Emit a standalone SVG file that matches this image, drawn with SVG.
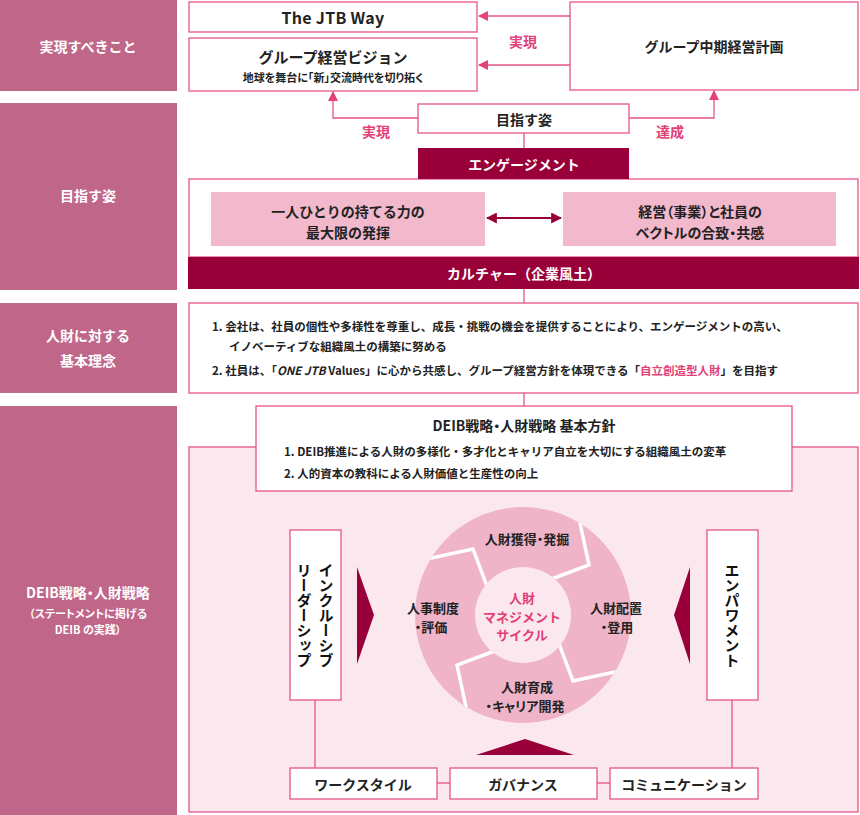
<svg xmlns="http://www.w3.org/2000/svg" width="860" height="815" viewBox="0 0 860 815">
<defs>
<style>
text{font-family:"Noto Sans CJK JP","Noto Sans",sans-serif;font-weight:700;dominant-baseline:central}
.side{fill:#bf6689}
.sideT{fill:#fff;font-size:14px;text-anchor:middle}
.box{fill:#fff;stroke:#e5538a;stroke-width:1.3}
.dark{fill:#99003a}
.darkT{fill:#fff;font-size:14px;text-anchor:middle}
.t{fill:#222;font-size:14px;text-anchor:middle}
.pinkT{fill:#e23f78;font-size:14px;text-anchor:middle}
.body{fill:#222;font-size:11.5px}
.ln{fill:none;stroke:#e5538a;stroke-width:1.3}
.pbox{fill:#f2b8cb}
.vt{fill:#111;font-size:15px;writing-mode:vertical-rl;text-anchor:middle}
.p{font-feature-settings:"palt"}
.cy{font-size:13px}
</style>
<marker id="pa" viewBox="0 0 10 10" refX="9" refY="5" markerWidth="10" markerHeight="10" markerUnits="userSpaceOnUse" orient="auto"><path d="M0,0 L10,5 L0,10 Z" fill="#e5407a"/></marker>
<marker id="da" viewBox="0 0 10 10" refX="9" refY="5" markerWidth="11" markerHeight="11" markerUnits="userSpaceOnUse" orient="auto-start-reverse"><path d="M0,0 L10,5 L0,10 Z" fill="#99003a"/></marker>
<clipPath id="ringClip"><path clip-rule="evenodd" d="M523,507 a108,108 0 1,0 0.01,0 Z M523,567 a48,48 0 1,0 0.01,0 Z"/></clipPath>
<polyline id="gap" points="-120,-51 -50,-66 -32,-18" fill="none" stroke="#fff" stroke-width="3.5"/>
</defs>

<g id="sidebar">
<rect class="side" x="0" y="0" width="177" height="91"/>
<text class="sideT" x="88" y="46">実現すべきこと</text>
<rect class="side" x="0" y="103" width="177" height="187"/>
<text class="sideT" x="88" y="195">目指す姿</text>
<rect class="side" x="0" y="303" width="177" height="90"/>
<text class="sideT" x="88" y="335">人財に対する</text>
<text class="sideT" x="88" y="360">基本理念</text>
<rect class="side" x="0" y="406" width="177" height="409"/>
<text class="sideT p" x="88" y="592">DEIB戦略・人財戦略</text>
<text class="sideT p" x="88" y="613" style="font-size:11px">（ステートメントに掲げる</text>
<text class="sideT p" x="88" y="629" style="font-size:11px">DEIB の実践）</text>
</g>

<g id="jtbway">
<rect class="box" x="189" y="2" width="288" height="30"/>
<text class="t" x="333" y="17" style="font-size:16px;letter-spacing:0.3px">The JTB Way</text>
</g>
<g id="vision">
<rect class="box" x="189" y="38" width="288" height="53"/>
<text class="t" x="333" y="56" style="font-size:15px">グループ経営ビジョン</text>
<text class="t p" x="333" y="77" style="font-size:11px">地球を舞台に「新」交流時代を切り拓く</text>
</g>
<g id="midplan">
<rect class="box" x="570" y="2" width="288" height="88"/>
<text class="t" x="714" y="46">グループ中期経営計画</text>
</g>
<g id="mezasu">
<rect class="box" x="418" y="104" width="211" height="29"/>
<text class="t" x="524" y="119">目指す姿</text>
</g>

<g id="culture">
<rect class="box" x="189" y="179" width="669" height="78"/>
<rect class="dark" x="418" y="148" width="211" height="31"/>
<text class="darkT" x="524" y="164">エンゲージメント</text>
<rect class="pbox" x="211" y="192" width="274" height="54"/>
<text class="t" x="348" y="211">一人ひとりの持てる力の</text>
<text class="t" x="348" y="232">最大限の発揮</text>
<rect class="pbox" x="563" y="192" width="273" height="54"/>
<text class="t p" x="700" y="211">経営（事業）と社員の</text>
<text class="t p" x="700" y="232">ベクトルの合致・共感</text>
<rect class="dark" x="188" y="257" width="671" height="32"/>
<text class="darkT" x="524" y="273">カルチャー（企業風土）</text>
</g>

<g id="philosophy">
<rect class="box" x="189" y="303" width="669" height="90"/>
<text class="body" x="212" y="326">1. 会社は、社員の個性や多様性を尊重し、成長・挑戦の機会を提供することにより、エンゲージメントの高い、</text>
<text class="body" x="229" y="346">イノベーティブな組織風土の構築に努める</text>
<text class="body" x="212" y="370">2. 社員は、「<tspan font-style="italic">ONE JTB</tspan> Values」に心から共感し、グループ経営方針を体現できる「<tspan fill="#e23f78">自立創造型人財</tspan>」を目指す</text>
</g>

<g id="deib-panel">
<rect x="189" y="447" width="669" height="365" fill="#fbe8ef" stroke="#e5538a" stroke-width="1.3"/>
</g>
<g id="deib-policy">
<rect class="box" x="256" y="406" width="536" height="85"/>
<text class="t p" x="524" y="425">DEIB戦略・人財戦略 基本方針</text>
<text class="body" x="284" y="451">1. DEIB推進による人財の多様化・多才化とキャリア自立を大切にする組織風土の変革</text>
<text class="body" x="284" y="473">2. 人的資本の教科による人財価値と生産性の向上</text>
</g>

<g id="cycle">
<path fill-rule="evenodd" fill="#f0b4c8" d="M523,507 a108,108 0 1,0 0.01,0 Z M523,567 a48,48 0 1,0 0.01,0 Z"/>
<g clip-path="url(#ringClip)">
<use href="#gap" transform="translate(523 615)"/>
<use href="#gap" transform="translate(523 615) rotate(90)"/>
<use href="#gap" transform="translate(523 615) rotate(180)"/>
<use href="#gap" transform="translate(523 615) rotate(270)"/>
</g>
<text class="t p cy" x="527" y="538">人財獲得・発掘</text>
<text class="t p cy" x="616" y="607">人財配置</text>
<text class="t p cy" x="617" y="626">・登用</text>
<text class="t p cy" x="433" y="607">人事制度</text>
<text class="t p cy" x="431" y="626">・評価</text>
<text class="t p cy" x="527" y="686">人財育成</text>
<text class="t p cy" x="525" y="705">・キャリア開発</text>
<text class="pinkT cy" x="522" y="597">人財</text>
<text class="pinkT cy" x="522" y="616">マネジメント</text>
<text class="pinkT cy" x="522" y="634">サイクル</text>
</g>

<g id="pointers">
<polygon class="dark" points="357,567 374,615 357,664"/>
<polygon class="dark" points="690,567 674,615 690,664"/>
<polygon class="dark" points="476,755 525,739 574,755"/>
</g>

<g id="inclusive">
<rect class="box" x="290" y="530" width="51" height="170"/>
<text class="vt" x="326" y="615">インクルーシブ</text>
<text class="vt" x="304" y="615">リーダーシップ</text>
</g>
<g id="empower">
<rect class="box" x="707" y="530" width="51" height="170"/>
<text class="vt" x="732" y="615">エンパワメント</text>
</g>
<g id="workstyle">
<rect class="box" x="290" y="768" width="147" height="31"/>
<text class="t" x="363" y="784">ワークスタイル</text>
</g>
<g id="governance">
<rect class="box" x="450" y="768" width="147" height="31"/>
<text class="t" x="523" y="784">ガバナンス</text>
</g>
<g id="communication">
<rect class="box" x="610" y="768" width="148" height="31"/>
<text class="t" x="684" y="784">コミュニケーション</text>
</g>

<g id="connectors">
<line class="ln" x1="570" y1="16" x2="479" y2="16" marker-end="url(#pa)"/>
<line class="ln" x1="570" y1="65" x2="479" y2="65" marker-end="url(#pa)"/>
<polyline class="ln" points="418,118 333,118 333,92" marker-end="url(#pa)"/>
<polyline class="ln" points="629,118 714,118 714,91" marker-end="url(#pa)"/>
<line class="ln" x1="524" y1="133" x2="524" y2="148"/>
<line class="ln" x1="524" y1="289" x2="524" y2="303"/>
<line class="ln" x1="524" y1="393" x2="524" y2="406"/>
<line x1="487" y1="218" x2="561" y2="218" stroke="#99003a" stroke-width="2" marker-start="url(#da)" marker-end="url(#da)"/>
<line class="ln" x1="315" y1="700" x2="315" y2="768"/>
<line class="ln" x1="732" y1="700" x2="732" y2="768"/>
<line class="ln" x1="437" y1="783" x2="450" y2="783"/>
<line class="ln" x1="597" y1="783" x2="610" y2="783"/>
<text class="pinkT" x="523" y="41">実現</text>
<text class="pinkT" x="376" y="131">実現</text>
<text class="pinkT" x="670" y="131">達成</text>
</g>
</svg>
